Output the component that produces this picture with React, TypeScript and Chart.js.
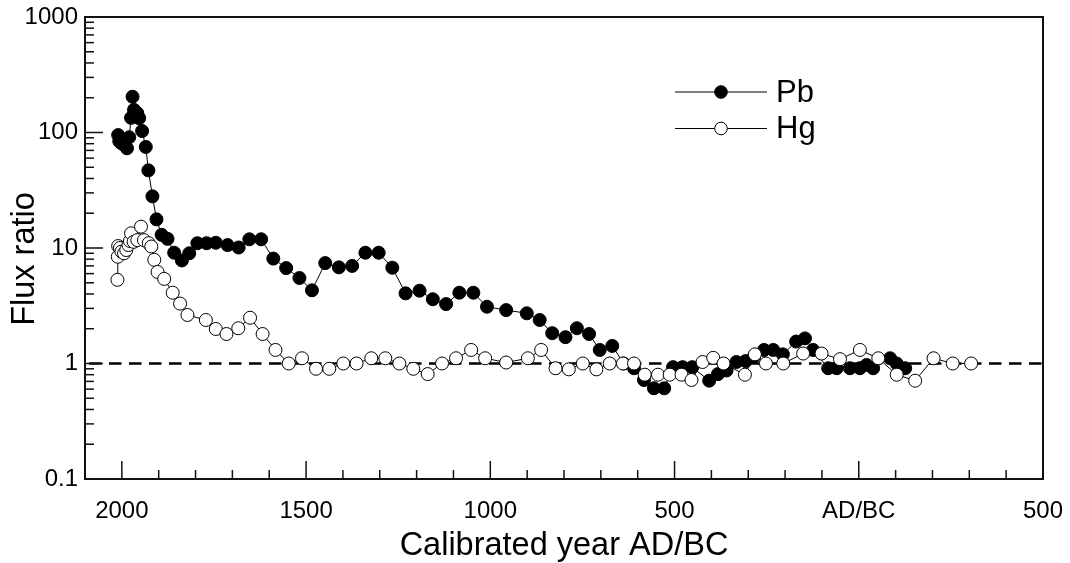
import React, { useEffect, useRef } from "react";
import { Chart, registerables } from "chart.js";

Chart.register(...registerables);

const pbYears = [
  2010, 2007, 2002, 1994, 1986, 1980, 1975, 1971, 1967, 1958, 1953, 1945, 1935, 1928, 1917, 1906,
  1892, 1876, 1858, 1837, 1817, 1795, 1770, 1745, 1713, 1683, 1654, 1622, 1589, 1554, 1518, 1484,
  1448, 1411, 1375, 1339, 1303, 1266, 1230, 1192, 1156, 1120, 1084, 1046, 1009, 957, 901, 866,
  832, 796, 765, 732, 703, 669, 638, 610, 583, 556, 528, 504, 478, 452, 406, 382, 359, 332, 307,
  285, 257, 232, 206, 170, 146, 124, 83, 60, 24, -3, -21, -39, -85, -103, -126,
];
const pbValues = [
  95, 84, 81, 78, 73, 91, 134, 204, 157, 147, 133, 103, 75, 47, 28, 17.7,
  13, 12, 9.1, 7.8, 9.0, 11, 11, 11.1, 10.6, 10.1, 11.9, 11.9, 8.1, 6.7, 5.5, 4.3,
  7.4, 6.8, 7.0, 9.1, 9.1, 6.75, 4.05, 4.27, 3.6, 3.27, 4.1, 4.1, 3.1, 2.9, 2.72, 2.38,
  1.83, 1.69, 2.02, 1.8, 1.31, 1.42, 1.0, 0.91, 0.72, 0.61, 0.61, 0.93, 0.93, 0.93, 0.71, 0.81, 0.87, 1.03, 1.05,
  1.14, 1.31, 1.31, 1.2, 1.55, 1.65, 1.31, 0.91, 0.91, 0.91, 0.91, 0.97, 0.91, 1.11, 1.0, 0.91,
];

const hgYears = [
  2012, 2011, 2010, 2005, 2001, 1994, 1988, 1982, 1978, 1975, 1968, 1958, 1948, 1940, 1927, 1920,
  1912, 1903, 1885, 1862, 1842, 1822, 1772, 1745, 1716, 1684, 1652, 1618, 1583, 1547, 1511, 1473,
  1437, 1399, 1363, 1323, 1285, 1247, 1209, 1170, 1131, 1093, 1052, 1014, 957, 898, 862, 823,
  787, 749, 712, 676, 640, 610, 581, 545, 513, 481, 454, 424, 395, 367, 309, 282, 252, 205,
  151, 101, 51, -3, -53, -103, -153, -203, -255, -305,
];
const hgValues = [
  5.3, 8.4, 10.4, 10.0, 9.3, 9.0, 9.6, 10.6, 11.5, 13.4, 11.3, 11.7, 15.3, 11.7, 11.0, 10.3,
  7.9, 6.2, 5.4, 4.1, 3.3, 2.63, 2.38, 1.99, 1.8, 2.02, 2.49, 1.8, 1.31, 1.0, 1.11, 0.9,
  0.9, 1.0, 1.0, 1.11, 1.11, 1.0, 0.9, 0.81, 1.0, 1.11, 1.31, 1.11, 1.02, 1.11, 1.31, 0.91,
  0.89, 1.0, 0.89, 1.0, 1.0, 1.0, 0.8, 0.8, 0.8, 0.8, 0.72, 1.03, 1.12, 1.0, 0.8, 1.2, 1.0, 1.0,
  1.22, 1.22, 1.09, 1.31, 1.11, 0.8, 0.71, 1.11, 1.0, 1.0,
];

const xTickValues = [2000, 1500, 1000, 500, 0, -500];
const xTickLabels = ["2000", "1500", "1000", "500", "AD/BC", "500"];
const yTickValues = [0.1, 1, 10, 100, 1000];
const yTickLabels = ["0.1", "1", "10", "100", "1000"];
const seriesNames = ["Pb", "Hg"];
const xTitle = "Calibrated year AD/BC";
const yTitle = "Flux ratio";

const FONT = "'Liberation Sans', Arial, Helvetica, sans-serif";

const refLinePlugin = {
  id: "refLine",
  beforeDatasetsDraw(chart: any) {
    const { ctx, chartArea, scales } = chart;
    const y = scales.y.getPixelForValue(1);
    ctx.save();
    ctx.strokeStyle = "#000";
    ctx.lineWidth = 2.5;
    ctx.setLineDash([12.5, 7.5]);
    ctx.beginPath();
    ctx.moveTo(chartArea.left + 4, y);
    ctx.lineTo(chartArea.right, y);
    ctx.stroke();
    ctx.restore();
  },
};

const frameTicksPlugin = {
  id: "frameTicks",
  beforeDatasetsDraw(chart: any) {
    const { ctx, chartArea, scales } = chart;
    const { left, right, top, bottom } = chartArea;
    ctx.save();
    ctx.strokeStyle = "#111";
    ctx.lineWidth = 1.5;
    for (let e = -1; e <= 3; e++) {
      for (let m = 1; m <= 9; m++) {
        const v = m * Math.pow(10, e);
        if (v > 1000.0001) continue;
        if (m === 1 && e === -1) continue;
        const py = scales.y.getPixelForValue(v);
        const len = m === 1 ? 18 : 9;
        ctx.beginPath();
        ctx.moveTo(left, py);
        ctx.lineTo(left + len, py);
        ctx.stroke();
      }
    }
    for (let yr = 2000; yr >= -400; yr -= 100) {
      const px = scales.x.getPixelForValue(yr);
      const len = yr % 500 === 0 ? 18 : 9;
      ctx.beginPath();
      ctx.moveTo(px, bottom);
      ctx.lineTo(px, bottom - len);
      ctx.stroke();
    }
    ctx.lineWidth = 2;
    ctx.strokeRect(left, top, right - left, bottom - top);
    ctx.restore();
  },
};

const yTitlePlugin = {
  id: "yTitle",
  afterDraw(chart: any) {
    const { ctx } = chart;
    ctx.save();
    ctx.translate(25.5, 259);
    ctx.rotate(-Math.PI / 2);
    ctx.fillStyle = "#000";
    ctx.font = `32.5px ${FONT}`;
    ctx.textAlign = "center";
    ctx.textBaseline = "middle";
    ctx.fillText(yTitle, 0, 0);
    ctx.restore();
  },
};

const legendPlugin = {
  id: "customLegend",
  afterDraw(chart: any) {
    const { ctx } = chart;
    const rows = [
      { y: 92, fill: "#000" },
      { y: 128.5, fill: "#fff" },
    ];
    ctx.save();
    rows.forEach((r, i) => {
      ctx.strokeStyle = "#000";
      ctx.lineWidth = 1;
      ctx.beginPath();
      ctx.moveTo(675, r.y);
      ctx.lineTo(767, r.y);
      ctx.stroke();
      ctx.beginPath();
      ctx.arc(721, r.y, 6.3, 0, Math.PI * 2);
      ctx.fillStyle = r.fill;
      ctx.fill();
      ctx.stroke();
      ctx.fillStyle = "#000";
      ctx.font = `31px ${FONT}`;
      ctx.textAlign = "left";
      ctx.textBaseline = "middle";
      ctx.fillText(seriesNames[i], 776, r.y + 1);
    });
    ctx.restore();
  },
};

export default function App() {
  const canvasRef = useRef<HTMLCanvasElement | null>(null);

  useEffect(() => {
    if (!canvasRef.current) return;
    Chart.defaults.font.family = FONT;
    const pbData = pbYears.map((x, i) => ({ x, y: pbValues[i] }));
    const hgData = hgYears.map((x, i) => ({ x, y: hgValues[i] }));
    const chart = new Chart(canvasRef.current, {
      type: "line",
      data: {
        datasets: [
          {
            label: seriesNames[0],
            data: pbData,
            borderColor: "#000",
            borderWidth: 1,
            backgroundColor: "#000",
            pointBackgroundColor: "#000",
            pointBorderColor: "#000",
            pointBorderWidth: 1,
            pointRadius: 6.5,
            tension: 0,
            order: 2,
          },
          {
            label: seriesNames[1],
            data: hgData,
            borderColor: "#000",
            borderWidth: 1,
            backgroundColor: "#fff",
            pointBackgroundColor: "#fff",
            pointBorderColor: "#000",
            pointBorderWidth: 1,
            pointRadius: 6.5,
            tension: 0,
            order: 1,
          },
        ],
      },
      options: {
        animation: false,
        responsive: false,
        maintainAspectRatio: false,
        layout: { padding: { left: 0, top: 17, right: 27, bottom: 0 } },
        plugins: {
          legend: { display: false },
          tooltip: { enabled: false },
        },
        scales: {
          x: {
            type: "linear",
            min: -500,
            max: 2100,
            reverse: true,
            grid: { display: false, drawTicks: false },
            border: { display: false },
            afterBuildTicks: (scale: any) => {
              scale.ticks = xTickValues.map((v) => ({ value: v }));
            },
            afterFit: (scale: any) => {
              scale.height = 84;
              scale.paddingLeft = 0;
              scale.paddingRight = 0;
            },
            ticks: {
              autoSkip: false,
              maxRotation: 0,
              padding: 18,
              color: "#000",
              font: { size: 24, family: FONT },
              callback: (_v: any, i: number) => xTickLabels[i],
            },
            title: {
              display: true,
              text: xTitle,
              color: "#000",
              font: { size: 32.5, family: FONT, lineHeight: 1.05 },
              padding: { top: 0, bottom: 0 },
            },
          },
          y: {
            type: "logarithmic",
            min: 0.1,
            max: 1000,
            grid: { display: false, drawTicks: false },
            border: { display: false },
            afterBuildTicks: (scale: any) => {
              scale.ticks = yTickValues.map((v) => ({ value: v }));
            },
            afterFit: (scale: any) => {
              scale.width = 85;
              scale.paddingTop = 0;
              scale.paddingBottom = 0;
            },
            ticks: {
              autoSkip: false,
              padding: 7,
              color: "#000",
              font: { size: 24, family: FONT },
              callback: (_v: any, i: number) => yTickLabels[i],
            },
            title: { display: false, text: yTitle },
          },
        },
      },
      plugins: [refLinePlugin, frameTicksPlugin, legendPlugin, yTitlePlugin],
    });
    return () => chart.destroy();
  }, []);

  return (
    <div style={{ position: "fixed", left: 0, top: 0, width: 1070, height: 563, background: "#fff" }}>
      <canvas ref={canvasRef} width={1070} height={563} style={{ width: 1070, height: 563, display: "block" }} />
    </div>
  );
}
